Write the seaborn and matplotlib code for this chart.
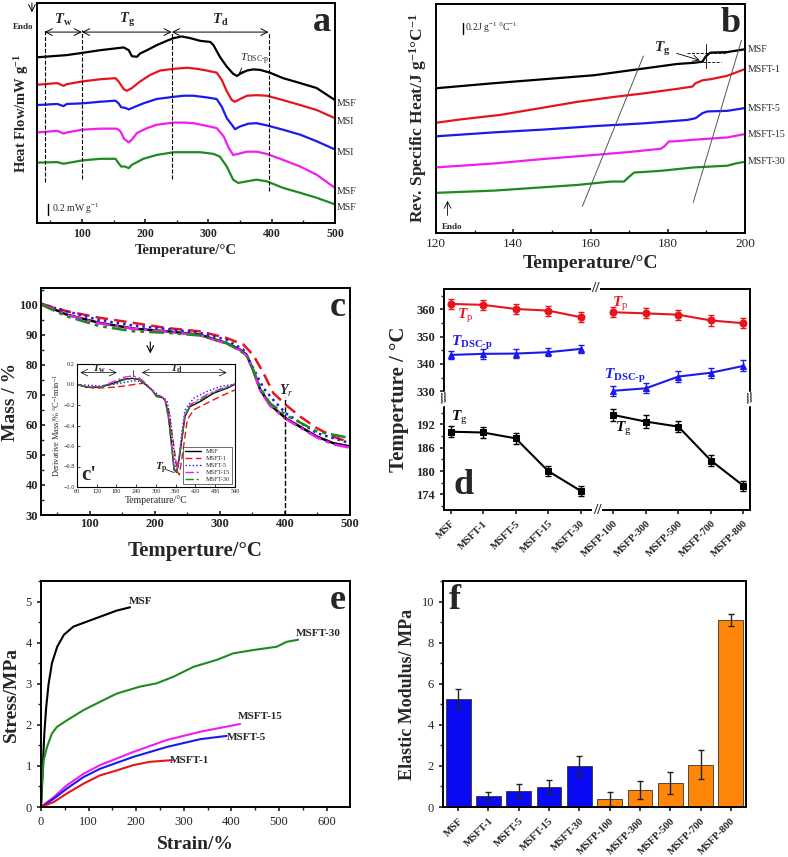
import matplotlib
matplotlib.use('Agg')
import matplotlib.pyplot as plt
import seaborn as sns
import numpy as np
import pandas as pd
from matplotlib.ticker import MultipleLocator
import matplotlib.transforms as mtransforms

sns.set_theme(style='ticks')
plt.rcParams['font.family'] = ['Liberation Serif', 'DejaVu Serif']
plt.rcParams['mathtext.fontset'] = 'custom'
plt.rcParams['mathtext.rm'] = 'Liberation Serif'
plt.rcParams['mathtext.it'] = 'Liberation Serif:italic'
plt.rcParams['mathtext.bf'] = 'Liberation Serif:bold'
plt.rcParams['mathtext.bfit'] = 'Liberation Serif:bold:italic'
plt.rcParams['axes.linewidth'] = 1.4
plt.rcParams['axes.edgecolor'] = 'black'

# ---- data ----
samples = ['MSF', 'MSFT-1', 'MSFT-5', 'MSFT-15', 'MSFT-30']
colors = ['black', '#e8141c', '#1a1aee', '#f01cf0', '#1f8a1f']

# (a) DSC heat flow, offset curves
dsc_T = {
    'MSF': [29, 76, 100, 129, 166, 174, 179, 187, 192, 203, 218, 234, 245, 258, 271, 287, 303, 308, 318, 329, 339, 345, 350, 361, 371, 382, 397, 418, 445, 471, 500],
    'MSFT-1': [29, 61, 71, 76, 100, 129, 153, 158, 166, 171, 179, 192, 208, 224, 245, 266, 282, 297, 313, 321, 329, 337, 342, 350, 361, 376, 392, 418, 445, 471, 500],
    'MSFT-5': [29, 61, 71, 76, 100, 129, 153, 158, 162, 168, 174, 182, 197, 218, 245, 261, 276, 297, 313, 321, 329, 337, 342, 350, 363, 376, 392, 418, 445, 471, 500],
    'MSFT-15': [29, 61, 71, 76, 100, 129, 155, 161, 167, 174, 179, 187, 203, 218, 245, 261, 276, 297, 313, 324, 332, 339, 347, 361, 376, 392, 418, 445, 471, 500],
    'MSFT-30': [29, 61, 71, 76, 100, 129, 153, 158, 162, 168, 174, 179, 197, 218, 245, 266, 287, 308, 318, 329, 339, 347, 361, 376, 392, 418, 445, 471, 500],
}
dsc_hf = {
    'MSF': [3.20, 3.24, 3.28, 3.33, 3.38, 3.33, 3.22, 3.21, 3.27, 3.33, 3.42, 3.50, 3.55, 3.58, 3.55, 3.50, 3.48, 3.42, 3.21, 3.03, 2.90, 2.86, 2.90, 2.96, 2.98, 2.97, 2.92, 2.82, 2.73, 2.64, 2.42],
    'MSFT-1': [2.70, 2.73, 2.68, 2.71, 2.76, 2.80, 2.82, 2.76, 2.62, 2.59, 2.64, 2.76, 2.88, 2.96, 2.99, 3.01, 2.99, 2.96, 2.92, 2.79, 2.58, 2.42, 2.39, 2.44, 2.50, 2.51, 2.50, 2.42, 2.33, 2.24, 2.09],
    'MSFT-5': [2.33, 2.35, 2.31, 2.35, 2.36, 2.39, 2.41, 2.36, 2.29, 2.28, 2.25, 2.29, 2.36, 2.44, 2.48, 2.50, 2.50, 2.47, 2.44, 2.30, 2.09, 1.97, 1.89, 1.94, 1.99, 2.00, 1.96, 1.88, 1.79, 1.67, 1.52],
    'MSFT-15': [1.83, 1.86, 1.81, 1.83, 1.88, 1.90, 1.90, 1.85, 1.71, 1.65, 1.70, 1.82, 1.91, 1.97, 2.01, 2.01, 2.00, 1.95, 1.91, 1.76, 1.55, 1.42, 1.44, 1.48, 1.48, 1.44, 1.33, 1.21, 1.06, 0.82],
    'MSFT-30': [1.28, 1.29, 1.26, 1.27, 1.32, 1.35, 1.35, 1.27, 1.21, 1.21, 1.18, 1.24, 1.35, 1.42, 1.47, 1.47, 1.47, 1.44, 1.39, 1.21, 0.97, 0.91, 0.94, 0.97, 0.94, 0.82, 0.73, 0.64, 0.52],
}
dsc_labels = ['MSF', 'MSI', 'MSI', 'MSF', 'MSF']
dsc_bounds = [41, 100, 242, 395]

# (b) reversing specific heat
cp_T = {
    'MSF': [120, 135.1, 148, 160.9, 173.9, 182.5, 186.8, 189, 189.8, 191, 195.4, 200],
    'MSFT-1': [120, 126.5, 136.8, 148, 156.6, 165.3, 173.9, 182.5, 186.4, 187.2, 189, 191.1, 195.4, 200],
    'MSFT-5': [120, 135.1, 148, 160.9, 173.9, 185.1, 187.2, 189, 190.3, 195.4, 200],
    'MSFT-15': [120, 135.1, 148, 160.9, 169.6, 178.2, 179.1, 180.3, 181.6, 186.8, 195.4, 200],
    'MSFT-30': [120, 135.1, 148, 156.6, 165.3, 168.7, 169.6, 171.3, 173.9, 178.2, 186.8, 195.4, 197.6, 200],
}
cp_val = {
    'MSF': [2.56, 2.65, 2.72, 2.79, 2.91, 2.99, 3.01, 3.03, 3.12, 3.19, 3.20, 3.25],
    'MSFT-1': [1.95, 2.01, 2.09, 2.22, 2.32, 2.40, 2.47, 2.55, 2.59, 2.65, 2.70, 2.72, 2.78, 2.90],
    'MSFT-5': [1.71, 1.78, 1.83, 1.89, 1.94, 2.00, 2.03, 2.12, 2.15, 2.16, 2.21],
    'MSFT-15': [1.16, 1.23, 1.31, 1.38, 1.43, 1.49, 1.53, 1.62, 1.62, 1.65, 1.69, 1.75],
    'MSFT-30': [0.71, 0.75, 0.81, 0.85, 0.91, 0.91, 0.97, 1.07, 1.08, 1.10, 1.16, 1.19, 1.23, 1.26],
}
tg_guides = [([157.9, 173.7], [0.47, 3.13]), ([186.6, 199.1], [0.54, 3.41])]

# (c) TGA mass
tga_T = {
    'MSF': [25, 64, 115, 167, 218, 269, 310, 331, 341, 351, 362, 377, 401, 423, 449, 474, 500],
    'MSFT-1': [25, 64, 115, 167, 218, 269, 310, 336, 351, 367, 382, 401, 423, 449, 474, 500],
    'MSFT-5': [25, 115, 167, 218, 269, 310, 336, 351, 367, 382, 401, 449, 500],
    'MSFT-15': [25, 64, 115, 167, 218, 269, 310, 331, 341, 351, 362, 377, 401, 423, 449, 474, 500],
    'MSFT-30': [25, 64, 115, 167, 218, 269, 310, 341, 351, 362, 377, 401, 449, 500],
}
tga_mass = {
    'MSF': [100.3, 96.7, 93.9, 92.0, 91.1, 90.0, 87.2, 85.0, 83.3, 78.3, 71.7, 66.7, 62.2, 59.4, 56.1, 53.9, 52.8],
    'MSFT-1': [100.3, 97.8, 95.6, 93.9, 92.2, 91.1, 88.9, 86.7, 83.3, 77.2, 70.6, 66.7, 62.8, 58.9, 56.1, 54.1],
    'MSFT-5': [100.1, 94.8, 93.0, 91.9, 90.6, 88.3, 85.0, 78.9, 72.2, 68.3, 63.9, 57.2, 53.9],
    'MSFT-15': [100.0, 96.6, 93.7, 91.9, 91.0, 89.8, 87.0, 84.8, 83.0, 78.0, 71.4, 66.4, 62.0, 59.1, 55.8, 53.5, 52.4],
    'MSFT-30': [100.0, 96.1, 92.8, 91.1, 90.6, 89.7, 87.2, 83.3, 78.3, 72.2, 67.2, 63.3, 57.8, 55.6],
}

# (c') derivative mass
dtg_T = {
    'MSF': [60, 90, 131, 171, 201, 227, 247, 267, 287, 302, 318, 328, 338, 348, 355, 363, 373, 388, 403, 434, 474, 515, 540],
    'MSFT-1': [60, 111, 171, 212, 242, 262, 282, 302, 323, 338, 353, 365, 371, 381, 395, 414, 454, 494, 540],
    'MSFT-5': [60, 131, 191, 232, 252, 272, 292, 313, 333, 343, 353, 361, 368, 378, 388, 414, 454, 494, 540],
    'MSFT-15': [60, 90, 131, 171, 201, 227, 247, 267, 287, 302, 318, 328, 338, 348, 355, 363, 373, 388, 403, 434, 474, 515, 540],
    'MSFT-30': [60, 90, 131, 171, 201, 227, 247, 267, 287, 302, 318, 328, 338, 348, 355, 363, 373, 388, 403, 434, 474, 515, 540],
}
dtg_val = {
    'MSF': [0.0, -0.027, -0.027, 0.012, 0.051, 0.060, 0.051, 0.005, -0.053, -0.118, -0.125, -0.151, -0.313, -0.605, -0.832, -0.858, -0.670, -0.313, -0.216, -0.167, -0.086, -0.037, 0.002],
    'MSFT-1': [0.0, -0.037, -0.027, -0.011, 0.005, 0.012, -0.037, -0.102, -0.125, -0.248, -0.573, -0.849, -0.881, -0.670, -0.345, -0.248, -0.183, -0.118, -0.053],
    'MSFT-5': [0.0, -0.014, 0.012, 0.038, 0.028, -0.005, -0.060, -0.118, -0.151, -0.313, -0.605, -0.849, -0.800, -0.475, -0.248, -0.134, -0.069, -0.021, 0.005],
    'MSFT-15': [0.0, -0.021, -0.021, 0.028, 0.070, 0.083, 0.070, 0.018, -0.047, -0.112, -0.118, -0.151, -0.329, -0.621, -0.839, -0.849, -0.638, -0.281, -0.200, -0.134, -0.069, -0.021, 0.005],
    'MSFT-30': [0.0, -0.021, -0.024, 0.005, 0.044, 0.057, 0.051, 0.002, -0.053, -0.112, -0.125, -0.157, -0.329, -0.612, -0.832, -0.852, -0.654, -0.306, -0.209, -0.151, -0.079, -0.031, 0.002],
}
line_styles = ['-', (0, (5, 2.5)), (0, (1, 1.6)), (0, (6, 2, 1.5, 2)), (0, (6, 2, 1.5, 2, 1.5, 2))]

# (d) characteristic temperatures
d_groups = ['MSF', 'MSFT-1', 'MSFT-5', 'MSFT-15', 'MSFT-30',
            'MSFP-100', 'MSFP-300', 'MSFP-500', 'MSFP-700', 'MSFP-800']
tp_vals = [361.95, 361.6, 360.1, 359.5, 357.1, 358.9, 358.5, 358.0, 355.9, 354.9]
tp_err = [1.8, 1.8, 1.7, 1.8, 1.8, 1.8, 1.8, 1.9, 1.9, 1.9]
tdsc_vals = [343.3, 343.7, 343.8, 344.3, 345.5, 330.2, 331.1, 335.4, 336.8, 339.3]
tdsc_err = [1.6, 1.8, 1.5, 1.5, 1.6, 1.8, 1.8, 1.9, 1.9, 2.0]
tg_vals = [190.1, 189.9, 188.4, 180.0, 174.9, 194.4, 192.7, 191.4, 182.7, 176.2]
tg_err = [1.4, 1.3, 1.4, 1.2, 1.2, 1.6, 1.6, 1.4, 1.3, 1.3]

# (e) stress-strain
ss_strain = {
    'MSF': [0, 2, 4, 7, 11, 16, 23, 34, 48, 68, 96, 124, 159, 187],
    'MSFT-30': [0, 2, 5.6, 12.6, 23, 33.6, 54.5, 89.5, 124, 159, 208, 243, 278, 320, 369, 404, 446, 495, 516, 540],
    'MSFT-15': [0, 26.6, 54.5, 89.5, 124, 194, 264, 334, 418],
    'MSFT-5': [0, 26.6, 54.5, 89.5, 124, 194, 264, 334, 390],
    'MSFT-1': [0, 26.6, 54.5, 89.5, 124, 159, 194, 229, 275],
}
ss_stress = {
    'MSF': [0, 0.41, 1.06, 1.79, 2.44, 3.0, 3.5, 3.9, 4.19, 4.39, 4.51, 4.63, 4.78, 4.86],
    'MSFT-30': [0, 0.57, 1.14, 1.46, 1.79, 1.95, 2.11, 2.36, 2.56, 2.76, 2.93, 3.01, 3.17, 3.41, 3.58, 3.74, 3.82, 3.9, 4.02, 4.07],
    'MSFT-15': [0, 0.24, 0.53, 0.81, 1.02, 1.34, 1.63, 1.83, 2.02],
    'MSFT-5': [0, 0.2, 0.45, 0.73, 0.93, 1.22, 1.46, 1.65, 1.73],
    'MSFT-1': [0, 0.12, 0.33, 0.57, 0.77, 0.89, 1.02, 1.10, 1.14],
}

# (f) elastic modulus
mod_vals = [5.27, 0.52, 0.79, 0.96, 1.98, 0.40, 0.81, 1.17, 2.06, 9.11]
mod_err = [0.45, 0.2, 0.35, 0.33, 0.48, 0.35, 0.44, 0.53, 0.72, 0.3]
mod_colors = ['#0a0af2'] * 5 + ['#ff8608'] * 5

# ---- figure ----
fig = plt.figure(figsize=(7.88, 8.57), dpi=100)


def box(l, r, t, b):
    return [l / 788, 1 - b / 857, (r - l) / 788, (b - t) / 857]


def bold_ticks(ax, size):
    for lbl in ax.get_xticklabels() + ax.get_yticklabels():
        lbl.set_fontweight('bold')
        lbl.set_fontsize(size)


def draw(ax, x, y, **kw):
    sns.lineplot(x=x, y=y, ax=ax, sort=False, estimator=None, **kw)


# ---------- a ----------
ax = fig.add_axes(box(37, 335, 3, 223))
for s, c in zip(samples, colors):
    draw(ax, dsc_T[s], dsc_hf[s], color=c, lw=1.6)
ax.set_xlim(29, 500)
ax.set_ylim(0.18, 4.19)
ax.set_yticks([])
ax.xaxis.set_major_locator(MultipleLocator(100))
ax.xaxis.set_minor_locator(MultipleLocator(50))
ax.tick_params(axis='x', which='both', direction='in', length=3, labelsize=8.5)
ax.tick_params(axis='x', which='minor', length=2)
bold_ticks(ax, 8.5)
ax.set_xlabel('Temperature/°C', fontsize=10.5, fontweight='bold', labelpad=3)
ax.set_ylabel(r'Heat Flow/mW g$^{\mathbf{-1}}$', fontsize=10.5, fontweight='bold', labelpad=4)
tr = mtransforms.blended_transform_factory(ax.transAxes, ax.transData)
for s, lab in zip(samples, dsc_labels):
    ax.text(1.005, dsc_hf[s][-1] - 0.06, lab, transform=tr, fontsize=7, va='center', ha='left')
tops = [3.70, 3.70, 3.67, 3.67]
bots = [0.92, 0.98, 0.98, 0.76]
for xv, t0, b0 in zip(dsc_bounds, tops, bots):
    ax.plot([xv, xv], [b0, t0], ls='--', color='black', lw=0.8)
for (x0, x1), lab, xl in zip([(41, 100), (100, 242), (242, 395)],
                             [r'$\mathbfit{T}_{\mathbf{w}}$', r'$\mathbfit{T}_{\mathbf{g}}$', r'$\mathbfit{T}_{\mathbf{d}}$'],
                             [70, 171, 318]):
    ax.annotate('', xy=(x1, 3.66), xytext=(x0, 3.66),
                arrowprops=dict(arrowstyle='<->', lw=0.7, color='black', shrinkA=0, shrinkB=0))
    ax.text(xl, 3.88, lab, fontsize=10.5, ha='center', va='center')
ax.annotate(r'$\mathit{T}_{\rm DSC\text{-}p}$', xy=(345, 2.88), xytext=(350, 3.12), fontsize=8,
            arrowprops=dict(arrowstyle='->', lw=0.6, color='black'))
ax.plot([47, 47], [0.33, 0.53], color='black', lw=1)
ax.text(53, 0.43, r'0.2 mW g$^{-1}$', fontsize=7, va='center')
ax.text(0.985, 0.985, 'a', transform=ax.transAxes, fontsize=26, fontweight='bold', ha='right', va='top')
ax.text(-0.045, 0.88, 'Endo', transform=ax.transAxes, fontsize=6.5, fontweight='bold', ha='center')
ax.annotate('', xy=(-0.017, 0.945), xytext=(-0.017, 1.013), xycoords='axes fraction',
            arrowprops=dict(arrowstyle='->', lw=0.7, color='black'), annotation_clip=False)

# ---------- b ----------
ax = fig.add_axes(box(436, 745, 4, 233))
for s, c in zip(samples, colors):
    draw(ax, cp_T[s], cp_val[s], color=c, lw=1.6)
ax.set_xlim(120, 200)
ax.set_ylim(0, 4.05)
ax.set_yticks([])
ax.xaxis.set_major_locator(MultipleLocator(20))
ax.xaxis.set_minor_locator(MultipleLocator(10))
ax.tick_params(axis='x', which='both', direction='in', length=3, labelsize=9.5)
ax.tick_params(axis='x', which='minor', length=2.5)
ax.set_xlabel('Temperature/°C', fontsize=14, fontweight='bold', labelpad=4)
ax.set_ylabel(r'Rev. Specific Heat/J g$^{\mathbf{-1}}$°C$^{\mathbf{-1}}$', fontsize=12.5, fontweight='bold', labelpad=5)
for gx, gy in tg_guides:
    ax.plot(gx, gy, color='#555555', lw=0.7)
tr = mtransforms.blended_transform_factory(ax.transAxes, ax.transData)
for s in samples:
    ax.text(1.008, cp_val[s][-1], s, transform=tr, fontsize=7, va='center', ha='left')
ax.plot([185.1, 195.4], [3.19, 3.19], ls='--', color='black', lw=0.6)
ax.plot([186.8, 193.7], [3.03, 3.03], ls='--', color='black', lw=0.6)
ax.plot([189.8, 189.8], [2.91, 3.35], color='black', lw=0.6)
ax.annotate(r'$\mathbfit{T}_{\mathbf{g}}$', xy=(189, 3.04), xytext=(176.5, 3.2), fontsize=11,
            arrowprops=dict(arrowstyle='->', lw=0.6, color='black'))
ax.plot([126.9, 126.9], [3.52, 3.72], color='black', lw=1)
ax.text(127.6, 3.63, r'0.2J g$^{-1}$ °C$^{-1}$', fontsize=7, va='center')
ax.annotate('', xy=(123, 0.62), xytext=(123, 0.26),
            arrowprops=dict(arrowstyle='->', lw=0.6, color='black'))
ax.text(124.2, 0.1, 'Endo', fontsize=6.5, fontweight='bold', ha='center', va='center')
ax.text(0.985, 0.985, 'b', transform=ax.transAxes, fontsize=26, fontweight='bold', ha='right', va='top')

# ---------- c ----------
ax = fig.add_axes(box(41, 350, 288, 515))
for s, c, ls in zip(samples, colors, line_styles):
    draw(ax, tga_T[s], tga_mass[s], color=c, lw=1.8, linestyle=ls)
ax.set_xlim(25, 500)
ax.set_ylim(30, 105.5)
ax.xaxis.set_major_locator(MultipleLocator(100))
ax.xaxis.set_minor_locator(MultipleLocator(50))
ax.yaxis.set_major_locator(MultipleLocator(10))
ax.yaxis.set_minor_locator(MultipleLocator(5))
ax.tick_params(which='both', direction='in', length=3, pad=2)
ax.tick_params(which='minor', length=2)
bold_ticks(ax, 9)
ax.set_xlabel('Temperture/°C', fontsize=15, fontweight='bold', labelpad=8)
ax.set_ylabel('Mass / %', fontsize=14, fontweight='bold', labelpad=0)
ax.plot([400, 400], [30, 69.4], ls='--', color='black', lw=1)
ax.text(402, 71.2, r'$\mathbfit{Y}_{r}$', fontsize=10, ha='center', va='center')
ax.annotate('', xy=(193, 82.8), xytext=(193, 88.5),
            arrowprops=dict(arrowstyle='->', lw=0.8, color='black'))
ax.text(0.985, 0.985, 'c', transform=ax.transAxes, fontsize=26, fontweight='bold', ha='right', va='top')

# inset c'
axi = fig.add_axes(box(77, 235, 364, 487))
for s, c, ls in zip(samples, colors, line_styles):
    draw(axi, dtg_T[s], dtg_val[s], color=c, lw=1.0, linestyle=ls, label=s)
axi.set_xlim(60, 540)
axi.set_ylim(-1.0, 0.2)
axi.set_xticks(np.arange(60, 541, 60))
axi.set_yticks(np.round(np.arange(-1.0, 0.21, 0.2), 1))
axi.tick_params(which='both', direction='in', length=2, labelsize=4.5, width=0.6, pad=1.5)
for sp in axi.spines.values():
    sp.set_linewidth(0.8)
axi.set_xlabel('Temperature/°C', fontsize=7, labelpad=1)
axi.set_ylabel(r'Derivative Mass/% °C$^{-1}$min$^{-1}$', fontsize=6, labelpad=1)
leg = axi.legend(loc='lower right', fontsize=4.5, frameon=True, handlelength=2.6,
                 borderpad=0.3, labelspacing=0.25, fancybox=False, edgecolor='black')
leg.get_frame().set_linewidth(0.5)
for (x0, x1) in [(70, 181), (257, 515)]:
    axi.annotate('', xy=(x1, 0.116), xytext=(x0, 0.116),
                 arrowprops=dict(arrowstyle='<->', lw=0.5, color='black', shrinkA=0, shrinkB=0))
axi.plot([229, 229], [0.083, 0.142], color='black', lw=0.5)
axi.text(126, 0.158, r'$\mathbfit{T}_{\mathbf{w}}$', fontsize=8, ha='center', va='center')
axi.text(363, 0.158, r'$\mathbfit{T}_{\mathbf{d}}$', fontsize=8, ha='center', va='center')
axi.plot([331, 355], [-0.83, -0.86], color='black', lw=0.5)
axi.text(318, -0.82, r'$\mathbfit{T}_{\mathbf{p}}$', fontsize=8, ha='center', va='center')
axi.text(96, -0.88, "c'", fontsize=15, fontweight='bold', ha='center', va='center')

# ---------- d ----------
xpos = np.arange(len(d_groups))
ax_u = fig.add_axes(box(444, 750, 289, 399))
ax_l = fig.add_axes(box(444, 750, 399, 510))
series = [(ax_u, tp_vals, tp_err, '#e8141c', 'o'),
          (ax_u, tdsc_vals, tdsc_err, '#1a1aee', '^'),
          (ax_l, tg_vals, tg_err, 'black', 's')]
for axx, vals, errs, c, m in series:
    for seg in (slice(0, 5), slice(5, 10)):
        draw(axx, xpos[seg], vals[seg], color=c, lw=1.5, marker=m, markersize=5,
             markeredgecolor=c)
        axx.errorbar(xpos[seg], vals[seg], yerr=errs[seg], fmt='none', ecolor=c,
                     elinewidth=1, capsize=2.5, capthick=1)
for axx in (ax_u, ax_l):
    axx.set_xlim(-0.2, 9.2)
    axx.tick_params(which='both', direction='out', length=3)
    axx.tick_params(which='minor', length=2)
ax_u.set_ylim(327.2, 367.4)
ax_l.set_ylim(170, 198.5)
ax_u.yaxis.set_major_locator(MultipleLocator(10))
ax_u.yaxis.set_minor_locator(MultipleLocator(5))
ax_l.set_yticks([174, 180, 186, 192])
ax_l.yaxis.set_minor_locator(MultipleLocator(3))
ax_u.spines['bottom'].set_visible(False)
ax_l.spines['top'].set_visible(False)
ax_u.set_xticks([])
ax_l.set_xticks(xpos)
ax_l.set_xticklabels(d_groups, rotation=45, ha='right', rotation_mode='anchor')
bold_ticks(ax_u, 9)
bold_ticks(ax_l, 9)
for lbl in ax_l.get_xticklabels():
    lbl.set_fontsize(7.5)
ax_l.set_ylabel('Temperture / °C', fontsize=15, fontweight='bold')
ax_l.yaxis.set_label_coords(-0.115, 1.0)
for xf in (0.0, 1.0):
    ax_l.text(xf, 1.0, '//', transform=ax_l.transAxes, fontsize=11, fontweight='bold',
              ha='center', va='center', rotation=20, color='black',
              bbox=dict(fc='white', ec='none', pad=0.2))
ax_l.text(4.5, 170, '//', fontsize=11, fontweight='bold', ha='center', va='center',
          bbox=dict(fc='white', ec='none', pad=0.2), clip_on=False)
ax_u.text(4.45, 367.4, '//', fontsize=11, fontweight='bold', ha='center', va='center',
          bbox=dict(fc='white', ec='none', pad=0.2), clip_on=False)
ax_u.text(0.2, 357.6, r'$\mathbfit{T}_{\rm p}$', color='#e8141c', fontsize=11, va='center')
ax_u.text(4.95, 361.8, r'$\mathbfit{T}_{\rm p}$', color='#e8141c', fontsize=11, va='center')
ax_u.text(0.02, 347.8, r'$\mathbfit{T}_{\mathbf{DSC\text{-}p}}$', color='#1a1aee', fontsize=11, va='center')
ax_u.text(4.72, 335.6, r'$\mathbfit{T}_{\mathbf{DSC\text{-}p}}$', color='#1a1aee', fontsize=11, va='center')
ax_l.text(0.0, 193.6, r'$\mathbfit{T}_{\rm g}$', color='black', fontsize=11, va='center')
ax_l.text(5.05, 190.8, r'$\mathbfit{T}_{\rm g}$', color='black', fontsize=11, va='center')
ax_l.text(0.4, 176.4, 'd', fontsize=26, fontweight='bold', ha='center', va='center')

# ---------- e ----------
ax = fig.add_axes(box(41, 350, 581, 807))
for s, c in zip(['MSF', 'MSFT-30', 'MSFT-15', 'MSFT-5', 'MSFT-1'],
                ['black', '#1f8a1f', '#f01cf0', '#1a1aee', '#e8141c']):
    draw(ax, ss_strain[s], ss_stress[s], color=c, lw=1.5)
ax.set_xlim(0, 649)
ax.set_ylim(0, 5.5)
ax.xaxis.set_major_locator(MultipleLocator(100))
ax.xaxis.set_minor_locator(MultipleLocator(50))
ax.yaxis.set_major_locator(MultipleLocator(1))
ax.yaxis.set_minor_locator(MultipleLocator(0.5))
ax.tick_params(which='both', direction='out', length=3, labelsize=9)
ax.tick_params(which='minor', length=2)
ax.set_xlabel('Strain/%', fontsize=14, fontweight='bold', labelpad=6)
ax.set_ylabel('Stress/MPa', fontsize=14, fontweight='bold', labelpad=4)
for lab, xx, yy in [('MSF', 210, 5.0), ('MSFT-30', 582, 4.23), ('MSFT-15', 460, 2.2),
                    ('MSFT-5', 432, 1.69), ('MSFT-1', 312, 1.14)]:
    ax.text(xx, yy, lab, fontsize=8, fontweight='bold', ha='center', va='center')
ax.text(0.985, 0.985, 'e', transform=ax.transAxes, fontsize=26, fontweight='bold', ha='right', va='top')

# ---------- f ----------
ax = fig.add_axes(box(443, 746, 581, 807))
mod_df = pd.DataFrame({'group': d_groups, 'modulus': mod_vals})
sns.barplot(data=mod_df, x='group', y='modulus', hue='group', palette=mod_colors,
            legend=False, ax=ax, width=0.82, edgecolor='#333333', linewidth=0.6,
            saturation=1)
ax.errorbar(np.arange(len(d_groups)), mod_vals, yerr=mod_err, fmt='none', ecolor='#222222',
            elinewidth=1, capsize=2.5, capthick=1)
ax.set_xlim(-0.5, 9.5)
ax.set_ylim(0, 11)
ax.yaxis.set_major_locator(MultipleLocator(2))
ax.yaxis.set_minor_locator(MultipleLocator(1))
ax.tick_params(which='both', direction='out', length=3, labelsize=9)
ax.tick_params(which='minor', length=2)
ax.set_xticks(np.arange(len(d_groups)))
ax.set_xticklabels(d_groups, rotation=45, ha='right', rotation_mode='anchor')
for lbl in ax.get_xticklabels():
    lbl.set_fontweight('bold')
    lbl.set_fontsize(7.6)
ax.set_xlabel('')
ax.set_ylabel('Elastic Modulus/ MPa', fontsize=13, fontweight='bold', labelpad=4)
ax.text(0.02, 0.985, 'f', transform=ax.transAxes, fontsize=26, fontweight='bold', ha='left', va='top')

fig.savefig('out.png', dpi=100, facecolor='white')
